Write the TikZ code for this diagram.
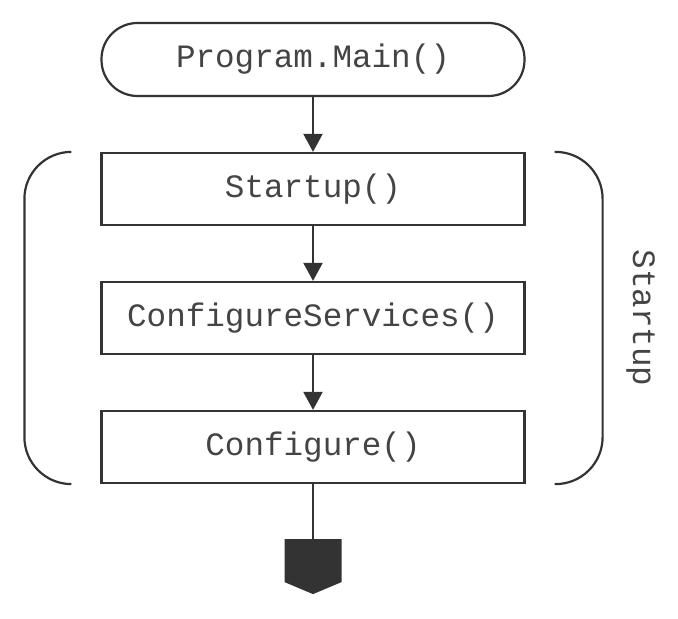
\documentclass[tikz,border=0pt]{standalone}
\usepackage{fontspec}
\setmonofont{Liberation Mono}
\usetikzlibrary{positioning,arrows.meta,calc}
\definecolor{flowgray}{RGB}{51,51,51}
\definecolor{textgray}{RGB}{68,68,68}

\begin{document}
\begin{tikzpicture}[
    font=\ttfamily\fontsize{16.3}{20}\selectfont,
    every node/.style={text=textgray},
    stepbox/.style={draw=flowgray, line width=1.1pt, minimum width=211.5pt, minimum height=36pt, inner sep=0pt},
    flow/.style={draw=flowgray, line width=1.1pt, -{Triangle[length=9pt,width=9.5pt]}},
    node distance=27.4pt
]
    \useasboundingbox (0,0) rectangle (339pt,-309.5pt);
    \node[stepbox, rounded corners=18pt, minimum height=36.5pt] (main) at (156.5pt,-29.75pt) {Program.Main()};
    \node[stepbox, below=of main] (startup) {Startup()};
    \node[stepbox, below=of startup] (services) {ConfigureServices()};
    \node[stepbox, below=of services] (configure) {Configure()};
    \coordinate[below=27.5pt of configure] (endmark);

    \draw[flow] (main) -- (startup);
    \draw[flow] (startup) -- (services);
    \draw[flow] (services) -- (configure);
    \draw[draw=flowgray, line width=1.1pt] (configure) -- (endmark);
    \fill[flowgray] ($(endmark)+(-14.25pt,0)$) -- ++(28.5pt,0) -- ++(0,-21.5pt)
        -- ($(endmark)+(0,-27.5pt)$) -- ($(endmark)+(-14.25pt,-21.5pt)$) -- cycle;

    % brackets round the startup steps
    \draw[draw=flowgray, line width=1.1pt, rounded corners=23.5pt]
        ($(startup.north west)+(-14.5pt,0)$) -- ($(startup.north west)+(-38pt,0)$)
        -- ($(configure.south west)+(-38pt,0)$) -- ($(configure.south west)+(-14.5pt,0)$);
    \draw[draw=flowgray, line width=1.1pt, rounded corners=23.5pt]
        ($(startup.north east)+(14.5pt,0)$) -- ($(startup.north east)+(38.5pt,0)$)
        -- ($(configure.south east)+(38.5pt,0)$) -- ($(configure.south east)+(14.5pt,0)$);
    \node[rotate=-90] (group) at ($(startup.north east)!0.5!(configure.south east)+(57.5pt,0)$) {Startup};
\end{tikzpicture}
\end{document}
